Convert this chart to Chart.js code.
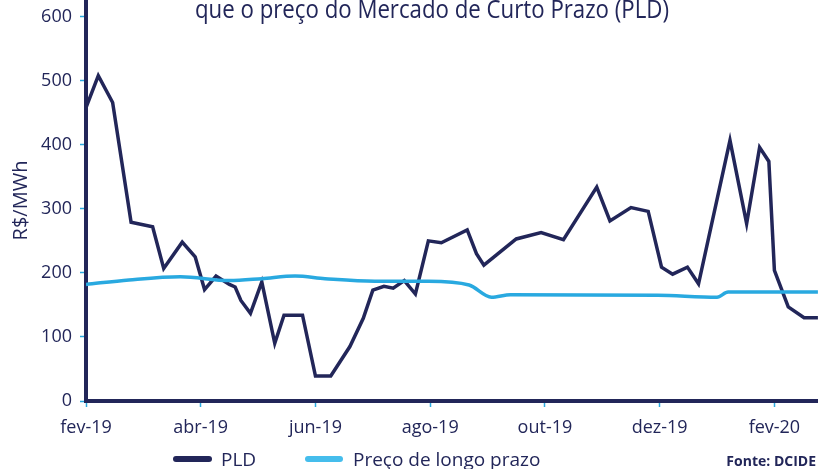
<!DOCTYPE html>
<html>
<head>
<meta charset="utf-8">
<script src="https://cdn.jsdelivr.net/npm/chart.js@4.4.1/dist/chart.umd.min.js"></script>
<style>
  html, body { margin: 0; padding: 0; background: #fff; overflow: hidden; }
  canvas { display: block; }
</style>
</head>
<body>
<canvas id="grafico" width="818" height="469"></canvas>
<script>
// PLD semanal (R$/MWh)
var pldDates = ['2019-02-01','2019-02-07','2019-02-14','2019-02-23','2019-03-06','2019-03-12','2019-03-22','2019-03-29',
  '2019-04-03','2019-04-09','2019-04-16','2019-04-19','2019-04-22','2019-04-27','2019-05-03','2019-05-10','2019-05-15',
  '2019-05-25','2019-06-01','2019-06-09','2019-06-19','2019-06-26','2019-07-01','2019-07-07','2019-07-12','2019-07-18',
  '2019-07-24','2019-07-31','2019-08-07','2019-08-21','2019-08-26','2019-08-30','2019-09-16','2019-09-29','2019-10-11',
  '2019-10-29','2019-11-05','2019-11-16','2019-11-25','2019-12-02','2019-12-08','2019-12-16','2019-12-22','2020-01-08',
  '2020-01-17','2020-01-24','2020-01-29','2020-02-01','2020-02-08','2020-02-16','2020-02-23'];
var pldValues = [458, 508, 466, 279, 272, 207, 248, 225,
  174, 195, 182, 178, 157, 137, 186, 90, 134,
  134, 39, 39, 85, 129, 173, 179, 176, 188,
  167, 250, 247, 267, 230, 212, 253, 263, 252,
  334, 281, 302, 296, 209, 198, 209, 183, 407,
  277, 396, 374, 204, 147, 130, 130];

// Preço de longo prazo
var lpDates = ['2019-02-01','2019-02-22','2019-03-21','2019-04-16','2019-05-03','2019-05-21','2019-06-06','2019-07-02',
  '2019-07-31','2019-08-22','2019-09-03','2019-09-13','2019-11-30','2020-01-01','2020-01-07','2020-02-23'];
var lpValues = [182, 189, 194, 188, 191, 195, 191, 187,
  187, 181, 162, 166, 165, 162, 170, 170];

var xTickDates = ['2019-02-01','2019-04-01','2019-06-01','2019-08-01','2019-10-01','2019-12-01','2020-02-01'];
var xTickLabels = ['fev-19','abr-19','jun-19','ago-19','out-19','dez-19','fev-20'];

var NAVY = '#222659';
var BLUE = '#29a9e0';
var FONT = '"Open Sans", sans-serif';

// meses desde fev-19 (fracionario)
function mesIdx(s) {
  var p = s.split('-').map(Number);
  var dias = new Date(Date.UTC(p[0], p[1], 0)).getUTCDate();
  return (p[0] - 2019) * 12 + (p[1] - 2) + (p[2] - 1) / dias;
}

function pontos(datas, vals) {
  var out = [];
  for (var i = 0; i < datas.length; i++) out.push({ x: mesIdx(datas[i]), y: vals[i] });
  return out;
}

var xTicks = xTickDates.map(mesIdx);

var extras = {
  id: 'extras',
  afterDraw: function (chart) {
    var ctx = chart.ctx;
    ctx.save();
    ctx.fillStyle = NAVY;
    ctx.textBaseline = 'alphabetic';

    // titulo (cortado no topo, como no original)
    var titulo = 'que o preço do Mercado de Curto Prazo (PLD)';
    ctx.font = '500 25px ' + FONT;
    var w = ctx.measureText(titulo).width;
    ctx.save();
    ctx.translate(195, 18);
    ctx.scale(474 / w, 1);
    ctx.textAlign = 'left';
    ctx.fillText(titulo, 0, 0);
    ctx.restore();

    // legenda
    ctx.lineCap = 'round';
    ctx.lineWidth = 6;
    ctx.strokeStyle = NAVY;
    ctx.beginPath(); ctx.moveTo(176, 459); ctx.lineTo(209, 459); ctx.stroke();
    ctx.strokeStyle = '#45bdec';
    ctx.beginPath(); ctx.moveTo(308, 459); ctx.lineTo(340, 459); ctx.stroke();
    ctx.textAlign = 'left';
    ctx.font = '500 19px ' + FONT;
    ctx.fillText('PLD', 221, 466);
    ctx.fillText('Preço de longo prazo', 353, 466);

    ctx.font = 'bold 14px ' + FONT;
    ctx.textAlign = 'right';
    ctx.fillText('Fonte: DCIDE', 816, 466);
    ctx.restore();
  }
};

var ctx = document.getElementById('grafico').getContext('2d');
var chart = new Chart(ctx, {
  type: 'line',
  data: {
    datasets: [{
      label: 'PLD',
      data: pontos(pldDates, pldValues),
      borderColor: NAVY,
      borderWidth: 3.5,
      pointRadius: 0,
      tension: 0,
      order: 2
    }, {
      label: 'Preço de longo prazo',
      data: pontos(lpDates, lpValues),
      borderColor: BLUE,
      borderWidth: 3.5,
      pointRadius: 0,
      cubicInterpolationMode: 'monotone',
      order: 1
    }]
  },
  options: {
    responsive: false,
    animation: false,
    devicePixelRatio: 1,
    layout: { padding: 0 },
    plugins: {
      legend: { display: false },
      tooltip: { enabled: false },
      title: { display: false }
    },
    scales: {
      x: {
        type: 'linear',
        min: 0,
        max: 12.76,
        afterBuildTicks: function (s) { s.ticks = xTicks.map(function (v) { return { value: v }; }); },
        afterFit: function (s) { s.height = 68; s.paddingLeft = 0; s.paddingRight = 0; },
        ticks: {
          autoSkip: false,
          maxRotation: 0,
          padding: 10,
          color: NAVY,
          font: { family: FONT, size: 18, weight: 500 },
          callback: function (v, i) { return xTickLabels[i]; }
        },
        grid: { drawOnChartArea: false, tickLength: 6, tickColor: BLUE, tickWidth: 1.5 },
        border: { color: NAVY, width: 4 }
      },
      y: {
        min: 0,
        max: 626,
        afterFit: function (s) { s.width = 86; s.paddingTop = 0; s.paddingBottom = 0; },
        ticks: {
          stepSize: 100,
          includeBounds: false,
          padding: 8,
          color: NAVY,
          font: { family: FONT, size: 18, weight: 500 }
        },
        grid: { drawOnChartArea: false, tickLength: 6, tickColor: BLUE, tickWidth: 1.5 },
        border: { color: NAVY, width: 4 },
        title: {
          display: true,
          text: 'R$/MWh',
          color: NAVY,
          font: { family: FONT, size: 20, weight: 500 },
          padding: { top: 9, bottom: 0 }
        }
      }
    }
  },
  plugins: [extras]
});
</script>
</body>
</html>
